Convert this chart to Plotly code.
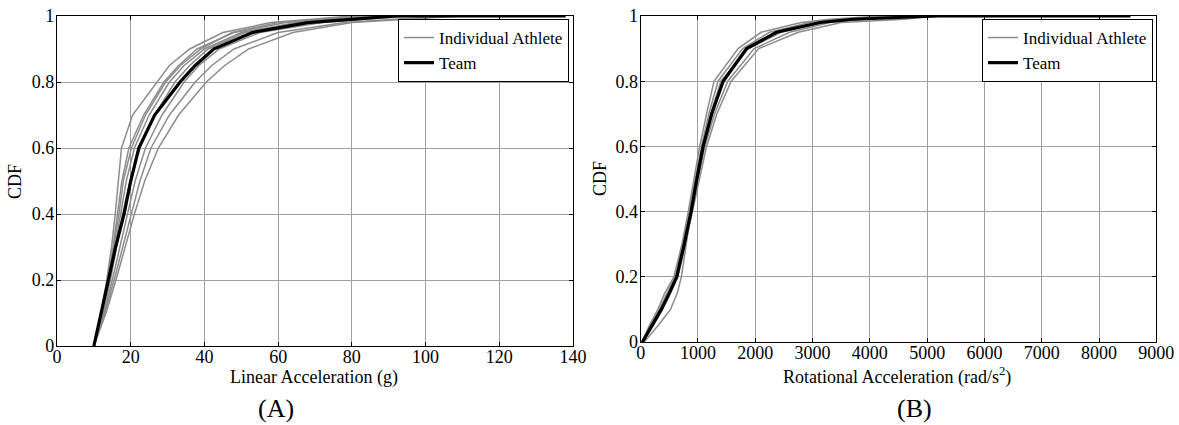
import plotly.graph_objects as go

# ---------------- Data ----------------
# CDF levels at which quantiles were read off the picture
cdf_levels = [0, 0.1, 0.2, 0.3, 0.4, 0.5, 0.6, 0.7, 0.8, 0.85, 0.9, 0.95, 0.98, 1.0]

# (A) Linear acceleration (g) quantiles per athlete
lin_ath1 = [10, 12.0, 13.5, 14.8, 15.8, 16.6, 17.5, 20.5, 27.0, 30.5, 36.0, 45.0, 58.0, 80.0]
lin_ath2 = [10, 12.0, 13.8, 15.2, 16.3, 17.6, 19.5, 23.5, 29.0, 33.0, 38.0, 48.0, 62.0, 85.0]
lin_ath3 = [10, 12.3, 14.2, 15.8, 17.2, 18.8, 21.0, 25.0, 30.5, 34.5, 40.0, 50.0, 65.0, 88.0]
lin_ath4 = [10, 12.5, 14.5, 16.2, 17.8, 19.8, 22.5, 26.5, 32.0, 36.0, 41.0, 51.0, 66.0, 92.0]
lin_ath5 = [10, 12.8, 15.0, 17.0, 19.0, 21.2, 24.0, 28.5, 34.5, 38.5, 44.0, 55.0, 72.0, 96.0]
lin_ath6 = [10, 13.0, 15.5, 17.8, 20.0, 22.5, 25.5, 30.5, 37.5, 42.0, 48.0, 60.0, 78.0, 105.0]
lin_ath7 = [10, 13.3, 16.0, 18.5, 21.0, 23.8, 27.5, 33.0, 40.5, 45.5, 52.0, 64.0, 80.0, 110.0]
lin_ath8 = [10, 12.2, 14.0, 15.5, 16.8, 18.0, 20.2, 24.0, 29.5, 33.5, 39.0, 47.5, 60.0, 82.0]
lin_team = [10, 12.0, 13.8, 15.9, 18.2, 20.0, 22.2, 26.5, 33.4, 37.5, 42.5, 53.0, 68.0, 92.0]
lin_team_max = 138

# (B) Rotational acceleration (rad/s^2) quantiles per athlete
rot_levels = [0, 0.05, 0.1, 0.15, 0.2, 0.3, 0.4, 0.5, 0.6, 0.7, 0.8, 0.9, 0.95, 0.98, 0.99, 1.0]
rot_ath1 = [60, 300, 520, 640, 710, 790, 880, 970, 1080, 1230, 1420, 1830, 2350, 3100, 3800, 5000]
rot_ath2 = [20, 150, 300, 420, 580, 720, 830, 930, 1030, 1150, 1280, 1700, 2100, 2800, 3300, 4200]
rot_ath3 = [30, 180, 330, 460, 600, 740, 850, 950, 1060, 1190, 1350, 1780, 2250, 2950, 3500, 4500]
rot_ath4 = [40, 220, 380, 520, 640, 770, 890, 1000, 1120, 1290, 1520, 1980, 2600, 3300, 3900, 4700]
rot_ath5 = [30, 200, 360, 510, 650, 780, 900, 1020, 1150, 1330, 1580, 2060, 2750, 3500, 4600, 5100]
rot_ath6 = [20, 170, 340, 480, 620, 750, 870, 970, 1080, 1220, 1400, 1880, 2450, 3200, 3600, 4400]
rot_team = [30, 200, 360, 500, 630, 760, 880, 980, 1090, 1240, 1440, 1850, 2370, 3130, 3700, 5200]
rot_team_max = 8550

lin_athletes = [lin_ath1, lin_ath2, lin_ath3, lin_ath4, lin_ath5, lin_ath6, lin_ath7, lin_ath8]
rot_athletes = [rot_ath1, rot_ath2, rot_ath3, rot_ath4, rot_ath5, rot_ath6]

y_ticks = [0, 0.2, 0.4, 0.6, 0.8, 1]
y_ticktext = ["0", "0.2", "0.4", "0.6", "0.8", "1"]

# ---------------- Style ----------------
W, H = 1179, 425
FONT = "'Liberation Serif', 'Times New Roman', Times, serif"
FS = 18
LEG_FS = 17
GRAY = "#8c8c8c"

def px_x(p):
    return p / W

def px_y(p):
    return (H - p) / H

fig = go.Figure()

for i, xs in enumerate(lin_athletes):
    fig.add_trace(go.Scatter(x=xs, y=cdf_levels, mode="lines",
                             line=dict(color=GRAY, width=1.5),
                             name="Individual Athlete", legendgroup="a",
                             showlegend=(i == 0), legend="legend",
                             xaxis="x", yaxis="y"))
fig.add_trace(go.Scatter(x=lin_team + [lin_team_max], y=cdf_levels + [1.0], mode="lines",
                         line=dict(color="black", width=3.2),
                         name="Team", showlegend=True, legend="legend",
                         xaxis="x", yaxis="y"))

for i, xs in enumerate(rot_athletes):
    fig.add_trace(go.Scatter(x=xs, y=rot_levels, mode="lines",
                             line=dict(color=GRAY, width=1.5),
                             name="Individual Athlete", legendgroup="b",
                             showlegend=(i == 0), legend="legend2",
                             xaxis="x2", yaxis="y2"))
fig.add_trace(go.Scatter(x=rot_team + [rot_team_max], y=rot_levels + [1.0], mode="lines",
                         line=dict(color="black", width=3.2),
                         name="Team", showlegend=True, legend="legend2",
                         xaxis="x2", yaxis="y2"))

axis_common = dict(showline=True, mirror="ticks", linecolor="black", linewidth=1.2,
                   ticks="inside", ticklen=4, tickcolor="black", tickwidth=1,
                   showgrid=True, gridcolor="#a0a0a0", gridwidth=0.8, automargin=False,
                   ticklabeloverflow="allow",
                   zeroline=False, tickfont=dict(family=FONT, size=FS, color="black"))

fig.update_layout(
    width=W, height=H, margin=dict(l=0, r=0, t=0, b=0, autoexpand=False),
    paper_bgcolor="white", plot_bgcolor="white",
    font=dict(family=FONT, size=FS, color="black"),
    xaxis=dict(domain=[px_x(57), px_x(573)], range=[0, 140], dtick=20, anchor="y",
               ticklabelstandoff=-6, **axis_common),
    yaxis=dict(domain=[px_y(346), px_y(16)], range=[0, 1], anchor="x",
               tickvals=y_ticks, ticktext=y_ticktext, ticklabelstandoff=-2, **axis_common),
    xaxis2=dict(domain=[px_x(640.7), px_x(1156.3)], range=[0, 9000], dtick=1000, anchor="y2",
                ticklabelstandoff=-6, **axis_common),
    yaxis2=dict(domain=[px_y(342), px_y(16)], range=[0, 1], anchor="x2",
                tickvals=y_ticks, ticktext=y_ticktext, ticklabelstandoff=-2, **axis_common),
    legend=dict(x=px_x(569), y=px_y(19), xanchor="right", yanchor="top",
                bgcolor="white", bordercolor="black", borderwidth=1,
                font=dict(family=FONT, size=LEG_FS), tracegroupgap=0),
    legend2=dict(x=px_x(1153), y=px_y(19), xanchor="right", yanchor="top",
                 bgcolor="white", bordercolor="black", borderwidth=1,
                 font=dict(family=FONT, size=LEG_FS), tracegroupgap=0),
    showlegend=True,
)

annots = [
    dict(text="Linear Acceleration (g)", x=px_x(314), y=px_y(377), size=FS, angle=0),
    dict(text="Rotational Acceleration (rad/s<sup>2</sup>)", x=px_x(897), y=px_y(376), size=FS, angle=0),
    dict(text="CDF", x=px_x(15), y=px_y(181), size=FS, angle=-90),
    dict(text="CDF", x=px_x(600), y=px_y(179), size=FS, angle=-90),
    dict(text="(A)", x=px_x(276), y=px_y(408), size=26, angle=0),
    dict(text="(B)", x=px_x(914), y=px_y(408), size=26, angle=0),
]
for a in annots:
    fig.add_annotation(text=a["text"], x=a["x"], y=a["y"], xref="paper", yref="paper",
                       xanchor="center", yanchor="middle", showarrow=False,
                       textangle=a["angle"], font=dict(family=FONT, size=a["size"], color="black"))

fig.write_html("out.html", config={"displayModeBar": False},
               post_script="document.body.style.margin='0';document.body.style.overflow='hidden';")
